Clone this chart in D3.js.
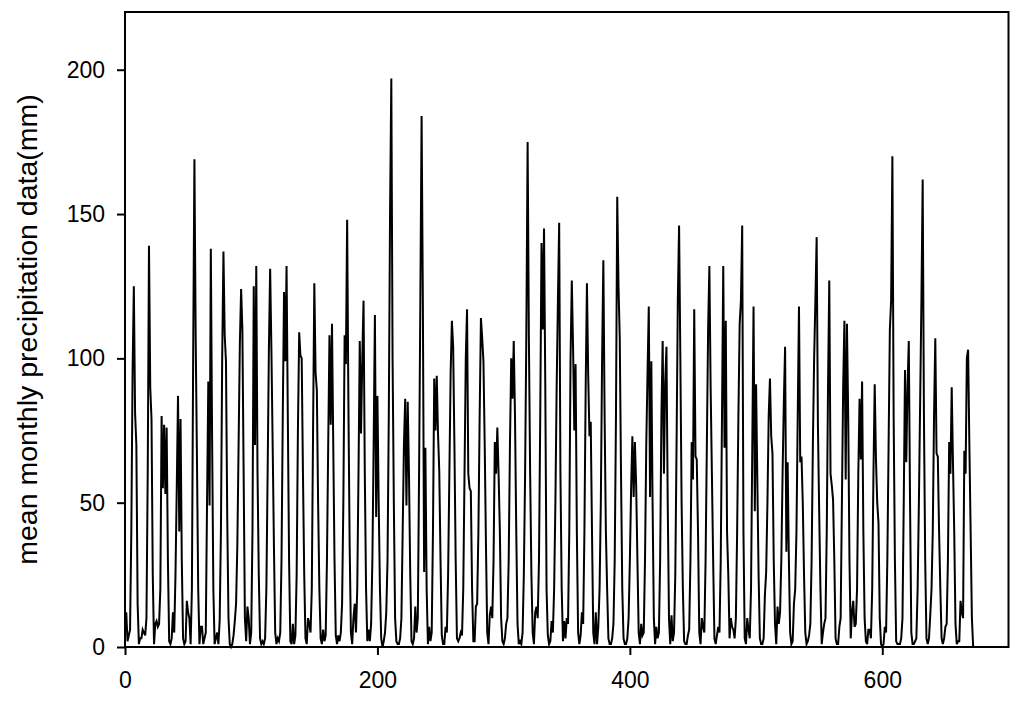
<!DOCTYPE html>
<html>
<head>
<meta charset="utf-8">
<script src="https://cdn.jsdelivr.net/npm/d3@7"></script>
<style>
  body { margin: 0; background: #fff; }
  svg { display: block; }
  .axis text { font-family: "Liberation Sans", Arial, sans-serif; font-size: 23px; fill: #000; }
  .axis line { stroke: #000; stroke-width: 2px; }
  .title { font-family: "Liberation Sans", Arial, sans-serif; font-size: 28.5px; fill: #000; }
</style>
</head>
<body>
<div id="chart"></div>
<script>
// monthly precipitation (mm), one row per year, Jan..Dec
var precip = [
  12, 2, 4, 6, 40, 95, 125, 81, 70, 15, 1, 3,
  3, 6, 5, 4, 10, 60, 139, 90, 79, 25, 1, 8,
  9, 7, 8, 20, 80, 55, 77, 53, 76, 30, 2, 1,
  3, 12, 5, 25, 55, 87, 40, 79, 30, 3, 1, 2,
  16, 12, 10, 1, 20, 100, 169, 107, 66, 20, 1, 7,
  7, 1, 3, 5, 50, 92, 49, 138, 73, 20, 1, 3,
  5, 1, 9, 40, 100, 137, 108, 99, 45, 10, 1, 0,
  1, 4, 9, 15, 35, 70, 105, 124, 110, 60, 10, 2,
  14, 10, 1, 5, 40, 125, 70, 132, 60, 25, 3, 1,
  2, 1, 3, 20, 60, 103, 131, 103, 70, 35, 5, 1,
  3, 2, 5, 30, 80, 123, 99, 132, 80, 30, 2, 1,
  8, 1, 4, 25, 75, 109, 101, 100, 60, 25, 3, 1,
  10, 8, 5, 20, 75, 126, 95, 89, 50, 20, 3, 1,
  6, 2, 4, 30, 70, 108, 77, 112, 70, 30, 4, 1,
  4, 2, 5, 15, 50, 108, 98, 148, 85, 35, 5, 1,
  10, 15, 5, 20, 60, 106, 74, 100, 120, 60, 20, 2,
  6, 2, 8, 30, 70, 115, 45, 87, 50, 20, 3, 0,
  2, 5, 12, 30, 80, 150, 197, 100, 50, 10, 2, 1,
  1, 3, 10, 40, 70, 86, 49, 85, 60, 25, 2, 1,
  3, 14, 5, 10, 60, 120, 184, 119, 26, 69, 20, 1,
  7, 2, 5, 40, 93, 75, 94, 74, 61, 30, 4, 1,
  1, 7, 5, 25, 60, 95, 113, 104, 70, 30, 3, 2,
  3, 5, 4, 20, 60, 100, 117, 60, 55, 54, 20, 2,
  2, 14, 15, 40, 80, 114, 107, 99, 70, 35, 5, 1,
  11, 14, 10, 30, 71, 60, 76, 60, 40, 10, 2, 1,
  3, 8, 10, 30, 70, 100, 86, 106, 80, 40, 8, 1,
  2, 1, 5, 25, 60, 110, 175, 107, 60, 25, 5, 1,
  12, 14, 10, 30, 80, 140, 110, 145, 90, 20, 4, 1,
  2, 9, 5, 20, 50, 90, 120, 147, 60, 20, 2, 9,
  3, 10, 8, 40, 100, 127, 104, 75, 98, 40, 5, 1,
  4, 12, 8, 40, 90, 126, 94, 73, 78, 40, 5, 1,
  12, 1, 7, 20, 50, 100, 134, 80, 40, 20, 3, 1,
  1, 3, 8, 30, 80, 156, 125, 107, 60, 20, 3, 1,
  1, 3, 10, 30, 55, 73, 52, 71, 56, 30, 5, 1,
  8, 4, 5, 30, 70, 95, 118, 52, 99, 50, 10, 1,
  7, 3, 5, 30, 80, 106, 60, 92, 104, 50, 10, 1,
  11, 2, 5, 25, 70, 120, 146, 100, 50, 20, 2, 1,
  1, 4, 6, 30, 71, 58, 117, 66, 65, 40, 5, 1,
  10, 7, 5, 30, 70, 110, 132, 90, 60, 30, 3, 1,
  4, 7, 5, 30, 80, 132, 69, 113, 40, 25, 3, 10,
  7, 6, 3, 10, 40, 80, 112, 120, 146, 40, 3, 1,
  10, 6, 3, 20, 70, 118, 47, 91, 58, 25, 3, 1,
  1, 3, 18, 26, 50, 80, 93, 73, 67, 30, 8, 1,
  14, 8, 12, 30, 60, 85, 104, 33, 64, 30, 5, 1,
  2, 15, 20, 40, 80, 118, 64, 66, 50, 25, 5, 1,
  2, 4, 8, 30, 70, 100, 120, 142, 77, 47, 20, 1,
  5, 8, 10, 40, 90, 127, 60, 56, 51, 30, 3, 1,
  1, 7, 10, 50, 90, 113, 58, 112, 80, 30, 3, 12,
  16, 7, 8, 20, 60, 86, 65, 92, 40, 10, 2, 1,
  6, 6, 3, 20, 60, 91, 65, 50, 43, 10, 1, 0,
  1, 7, 5, 30, 70, 110, 120, 170, 80, 30, 2, 1,
  1, 1, 3, 10, 50, 96, 64, 90, 106, 50, 5, 1,
  1, 2, 3, 20, 50, 85, 120, 162, 80, 30, 3, 1,
  3, 11, 20, 40, 80, 107, 67, 66, 40, 20, 3, 1,
  3, 7, 8, 30, 71, 60, 90, 64, 40, 8, 1, 2,
  2, 16, 12, 10, 68, 60, 100, 103, 70, 40, 10, 0
];
var xTicks = [0, 200, 400, 600];
var yTicks = [0, 50, 100, 150, 200];
var yLabel = "mean monthly precipitation data(mm)";

var width = 1024,
    height = 703,
    plotLeft = 125, plotRight = 1008.5,
    plotTop = 12, plotBottom = 647;

var x = d3.scaleLinear().domain([0, 700]).range([plotLeft, plotRight]);
var y = d3.scaleLinear().domain([0, 220]).range([plotBottom, plotTop]);

var svg = d3.select("#chart").append("svg")
    .attr("width", width)
    .attr("height", height);

svg.append("rect")
    .attr("width", width)
    .attr("height", height)
    .attr("fill", "#fff");

var line = d3.line()
    .x(function(d, i) { return x(i + 1); })
    .y(function(d) { return y(d); });

svg.append("path")
    .datum(precip)
    .attr("d", line)
    .attr("fill", "none")
    .attr("stroke", "#000")
    .attr("stroke-width", 2);

// frame
svg.append("rect")
    .attr("x", plotLeft)
    .attr("y", plotTop)
    .attr("width", plotRight - plotLeft)
    .attr("height", plotBottom - plotTop)
    .attr("fill", "none")
    .attr("stroke", "#000")
    .attr("stroke-width", 2);

var yAxis = svg.append("g")
    .attr("class", "axis")
    .attr("transform", "translate(" + plotLeft + ",0)")
    .call(d3.axisLeft(y).tickValues(yTicks).tickSize(8).tickPadding(12).tickFormat(d3.format("d")));
yAxis.select(".domain").remove();

var xAxis = svg.append("g")
    .attr("class", "axis")
    .attr("transform", "translate(0," + plotBottom + ")")
    .call(d3.axisBottom(x).tickValues(xTicks).tickSize(8).tickPadding(17).tickFormat(d3.format("d")));
xAxis.select(".domain").remove();

svg.append("text")
    .attr("class", "title")
    .attr("transform", "translate(37," + (plotTop + plotBottom) / 2 + ") rotate(-90)")
    .attr("text-anchor", "middle")
    .text(yLabel);
</script>
</body>
</html>
